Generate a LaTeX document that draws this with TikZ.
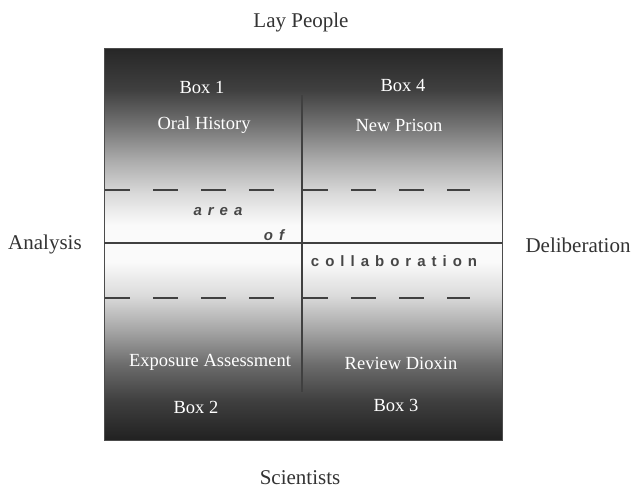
\documentclass[tikz,border=0pt]{standalone}
\usepackage{fontspec}
\setmainfont{Liberation Serif}
\newfontfamily\spacedfont[LetterSpace=40]{Liberation Sans}
\pgfdeclareverticalshading{boxshade}{100bp}{color(0bp)=(black!87); color(25bp)=(black!87); color(30.1bp)=(black!75); color(34.57bp)=(black!58); color(39.03bp)=(black!35); color(43.49bp)=(black!14); color(47.7bp)=(black!2); color(52.42bp)=(black!2); color(56.25bp)=(black!14); color(60.71bp)=(black!33); color(65.18bp)=(black!55); color(69.64bp)=(black!75); color(75bp)=(black!85); color(100bp)=(black!85)}
\begin{document}
\begin{tikzpicture}[x=1pt,y=-1pt,
  outer/.style={font=\fontsize{21}{24}\selectfont, text=black!80},
  inbox/.style={font=\fontsize{18.5}{22}\selectfont, text=white},
  collab/.style={font=\spacedfont\bfseries\fontsize{15}{18}\selectfont, text=black!72},
  collabit/.style={font=\spacedfont\bfseries\itshape\fontsize{15}{18}\selectfont, text=black!72},
  divider/.style={draw=black!75, line width=1.2pt},
  dashline/.style={draw=black!75, line width=1.8pt, dash pattern=on 25pt off 23pt}]
\fill[white] (0,0) rectangle (636,490);
\useasboundingbox (0,0) rectangle (636,490);
\coordinate (tl) at (104,48);
\coordinate (br) at (502,440);
\coordinate (hl) at (104,243);
\coordinate (hr) at (502,243);
\coordinate (vt) at (302,95);
\coordinate (vb) at (302,392);
\coordinate (d1a) at (105,190); \coordinate (d1b) at (280,190);
\coordinate (d2a) at (303,190); \coordinate (d2b) at (470,190);
\coordinate (d3a) at (105,298); \coordinate (d3b) at (280,298);
\coordinate (d4a) at (303,298); \coordinate (d4b) at (470,298);
\shade[shading=boxshade] (tl) rectangle (br);
\draw[black!70, line width=1pt] (tl) rectangle (br);
\draw[divider] (hl) -- (hr);
\draw[divider] (vt) -- (vb);
\draw[dashline] (d1a) -- (d1b);
\draw[dashline] (d2a) -- (d2b);
\draw[dashline] (d3a) -- (d3b);
\draw[dashline] (d4a) -- (d4b);
\node[outer] (lay) at (301,22) {Lay People};
\node[outer] (sci) at (300,478) {Scientists};
\node[outer] (ana) at (45,244) {Analysis};
\node[outer] (del) at (578,245) {Deliberation};
\node[inbox] (b1) at (202,87) {Box 1};
\node[inbox] (oh) at (204,125) {Oral History};
\node[inbox] (b4) at (403,85) {Box 4};
\node[inbox] (np) at (399,125) {New Prison};
\node[inbox] (ea) at (210,362) {Exposure Assessment};
\node[inbox] (rd) at (401,363) {Review Dioxin};
\node[inbox] (b2) at (196,407) {Box 2};
\node[inbox] (b3) at (396,405) {Box 3};
\node[collabit] (area) at (218,212) {area};
\node[collabit] (of) at (274,235) {of};
\node[collab] (col) at (394,261) {collaboration};
\end{tikzpicture}
\end{document}
